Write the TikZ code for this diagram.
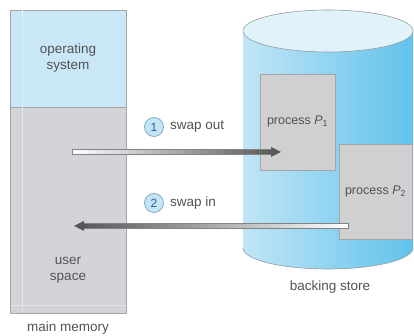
\documentclass[tikz,border=0pt]{standalone}
\usepackage{fontspec}
\setmainfont{Liberation Sans}
\usetikzlibrary{positioning}

\definecolor{osblue}{RGB}{201,231,246}
\definecolor{memgray}{RGB}{211,212,215}
\definecolor{boxgray}{RGB}{208,208,210}
\definecolor{edgegray}{RGB}{165,165,168}
\definecolor{txtgray}{RGB}{82,82,84}
\definecolor{cylleft}{RGB}{192,229,246}
\definecolor{cylmid}{RGB}{238,248,253}
\definecolor{cylright}{RGB}{98,195,236}
\definecolor{cyltop}{RGB}{224,243,251}
\definecolor{cyledge}{RGB}{150,155,160}
\definecolor{arrowdark}{RGB}{88,88,90}
\definecolor{arrowedge}{RGB}{130,130,132}
\definecolor{stepfill}{RGB}{196,229,246}
\definecolor{stepedge}{RGB}{130,172,196}
\definecolor{stepnum}{RGB}{45,95,145}

\tikzset{
  region/.style={draw=edgegray, line width=0.5pt, inner sep=0pt},
  procbox/.style={region, fill=boxgray, minimum width=75pt, minimum height=96pt,
    font=\fontsize{12.5}{15}\selectfont, text=txtgray},
  label/.style={font=\fontsize{13.5}{16}\selectfont, text=txtgray, align=center, inner sep=0pt},
  stepmark/.style={circle, draw=stepedge, line width=0.8pt, fill=stepfill,
    minimum size=19pt, inner sep=0pt, font=\fontsize{12}{12}\selectfont, text=stepnum},
  shaftline/.style={draw=arrowedge, line width=0.5pt},
}

\begin{document}
\begin{tikzpicture}[x=1pt, y=1pt]
  \useasboundingbox (0,0) rectangle (414,336);
  \fill[white] (0,0) rectangle (414,336);

  % main memory column
  \node[region, fill=osblue, minimum width=116pt, minimum height=97pt] (os) at (68,277.5) {};
  \node[region, fill=memgray, minimum width=116pt, minimum height=206pt] (user) at (68,126) {};
  \draw[white!40!memgray, line width=0.6pt] (22,24) -- (22,228.5);
  \draw[white!40!osblue, line width=0.6pt] (22,229.5) -- (22,325.5);
  \draw[white!40!memgray, line width=0.6pt] (10.5,31) -- (125.5,31);
  \node[label] (ostxt) at (os.center) {operating\\system};
  \node[label] (usertxt) at (68,66) {user\\space};
  \node[label] (memtxt) at (68,8) {main memory};

  % backing store cylinder
  \shade[left color=cylleft, middle color=cylmid, right color=cylright]
    (243,305) -- (243,88) arc[start angle=180, end angle=360, x radius=85, y radius=21]
    -- (413,305) -- cycle;
  \draw[cyledge, line width=0.6pt] (243,88) arc[start angle=180, end angle=360, x radius=85, y radius=21];
  \draw[cyledge, line width=0.6pt, fill=cyltop] (328,305) ellipse[x radius=85, y radius=21];
  \node[label] (storetxt) at (330,49) {backing store};

  % processes held in the backing store
  \node[procbox] (p1) at (297.5,214) {process {\itshape P}\textsubscript{1}};
  \node[procbox, minimum width=73pt, minimum height=95pt] (p2) at (375.5,144.5) {process {\itshape P}\textsubscript{2}};

  % arrow end points
  \coordinate (out1) at (72,184);
  \coordinate (in1) at (281,184);
  \coordinate (out2) at (348,110);
  \coordinate (in2) at (74,110);

  % 1: swap out
  \shade[shaftline, left color=white, right color=arrowdark]
    ([yshift=-2.5pt]out1) rectangle ([yshift=2.5pt, xshift=-8pt]in1);
  \fill[arrowdark] (in1) -- ([xshift=-10pt, yshift=5pt]in1) -- ([xshift=-10pt, yshift=-5pt]in1) -- cycle;
  \node[stepmark] (s1) at (154,209) {1};
  \node[label, anchor=west] (s1txt) at ([xshift=6pt]s1.east) {swap out};

  % 2: swap in
  \shade[shaftline, left color=arrowdark, right color=white]
    ([yshift=-2.5pt, xshift=8pt]in2) rectangle ([yshift=2.5pt]out2);
  \fill[arrowdark] (in2) -- ([xshift=10pt, yshift=5pt]in2) -- ([xshift=10pt, yshift=-5pt]in2) -- cycle;
  \node[stepmark] (s2) at (154,133) {2};
  \node[label, anchor=west] (s2txt) at ([xshift=6pt]s2.east) {swap in};
\end{tikzpicture}
\end{document}
